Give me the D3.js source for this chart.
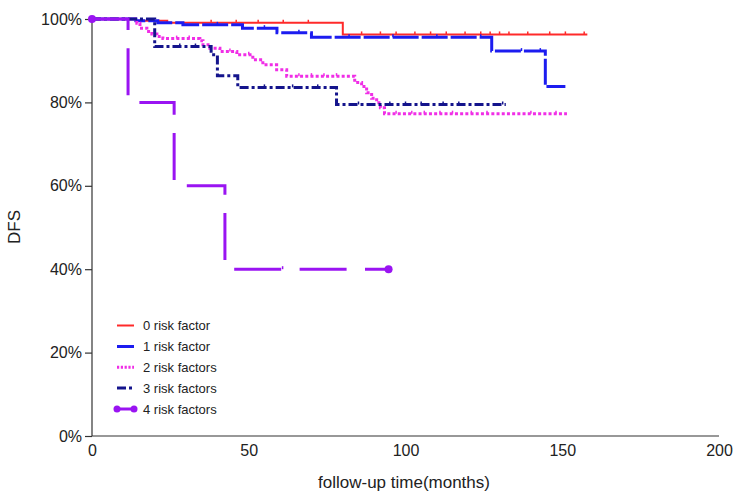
<!DOCTYPE html>
<html><head><meta charset="utf-8">
<script src="https://cdn.jsdelivr.net/npm/d3@7"></script>
<style>body{margin:0;background:#fff}svg{display:block}text{font-family:"Liberation Sans",Arial,sans-serif;fill:#222}</style>
</head><body>
<svg id="c" width="736" height="496"></svg>
<script>
// ---- data ----
const seriesNames = ["0 risk factor","1 risk factor","2 risk factors","3 risk factors","4 risk factors"];
const times0 = [0, 14, 24, 80];
const surv0  = [100, 99.6, 99.1, 96.3];
const end0 = 158;
const cens0 = [38, 46, 53, 61, 69, 86, 92, 97, 103, 108, 113, 119, 124, 127, 130, 133, 139, 146, 151, 157];
const times1 = [0, 14, 21, 29, 48, 59, 70, 127.5, 144.6];
const surv1  = [100, 99.6, 99.1, 98.6, 97.8, 96.7, 95.6, 92.3, 83.8];
const end1 = 151;
const cens1 = [40, 55, 66, 82, 96, 110, 124, 137, 143];
const times2 = [0, 14.3, 15.3, 17.5, 19.1, 20.7, 22.6, 34.4, 35.4, 37.6, 40.8, 46.2, 51.3, 54.5, 58.9, 62.1, 83.8, 86, 87.6, 89.2, 90.8, 92, 93.3];
const surv2  = [100, 99, 97.8, 97, 96.4, 95.8, 95.3, 94.8, 93.8, 93, 92.2, 91.4, 90.2, 89, 87.8, 86.3, 84.8, 83.8, 82.3, 81, 79.9, 78.7, 77.3];
const end2 = 151.5;
const cens2 = [27, 31, 44, 50, 66, 70, 74, 78, 97, 102, 106, 111, 115, 121, 126, 140, 148];
const times3 = [0, 20, 38, 40, 46.5, 78];
const surv3  = [100, 93.4, 91.4, 86.4, 83.6, 79.5];
const end3 = 132;
const cens3 = [28, 33, 55, 64, 72, 85, 95, 100, 105, 112, 117, 131];
const times4 = [0, 11.5, 26.2, 42.4];
const surv4  = [100, 80, 60, 40];
const end4 = 94.6;
const cens4 = [60.8];
const xTicks = [0, 50, 100, 150, 200];
const yTicks = [0, 20, 40, 60, 80, 100];

const colors = ["#ff2a2a", "#1c1cf0", "#f02ee6", "#14148c", "#9a14f2"];
const dashes = [null, "26,3", "3,2.2", "9,3,3,3", "47,18.4"];
const widths = [2, 3, 3, 3, 3];

const svg = d3.select("#c");
const x = d3.scaleLinear().domain([0, 200]).range([92, 719]);
const y = d3.scaleLinear().domain([0, 100]).range([436, 19]);

// axes
const gx = svg.append("g").attr("transform", "translate(0,436)")
  .call(d3.axisBottom(x).tickValues(xTicks).tickSize(0).tickPadding(6));
gx.selectAll("text").style("font-size", "16px").attr("dy", "0.9em");
const gy = svg.append("g").attr("transform", "translate(92,0)")
  .call(d3.axisLeft(y).tickValues(yTicks).tickSize(7).tickPadding(3).tickFormat(d => d + "%"));
gy.selectAll("text").style("font-size", "16px");
svg.selectAll(".domain, .tick line").attr("stroke", "#333").attr("stroke-width", 1.2);
svg.selectAll(".domain").attr("d", function(){ return d3.select(this).attr("d"); });
gy.select(".domain").attr("d", "M0,436V19");
gx.select(".domain").attr("d", "M92,0H719");

svg.append("text").attr("x", 404).attr("y", 488).attr("text-anchor", "middle")
  .style("font-size", "17px").text("follow-up time(months)");
svg.append("text").attr("transform", "translate(20,227) rotate(-90)").attr("text-anchor", "middle")
  .style("font-size", "17px").text("DFS");

const all = [
  [times0, surv0, end0, cens0],
  [times1, surv1, end1, cens1],
  [times2, surv2, end2, cens2],
  [times3, surv3, end3, cens3],
  [times4, surv4, end4, cens4]
];

function stepPts(t, s, e) {
  const pts = t.map((d, i) => [d, s[i]]);
  pts.push([e, s[s.length - 1]]);
  return pts;
}
function survAt(t, s, tt) {
  let v = s[0];
  for (let i = 0; i < t.length; i++) if (t[i] <= tt) v = s[i];
  return v;
}
const line = d3.line().x(d => x(d[0])).y(d => y(d[1])).curve(d3.curveStepAfter);

all.forEach((d, i) => {
  const g = svg.append("g");
  const p = g.append("path").datum(stepPts(d[0], d[1], d[2]))
    .attr("d", line).attr("fill", "none")
    .attr("stroke", colors[i]).attr("stroke-width", widths[i]);
  if (dashes[i]) p.attr("stroke-dasharray", dashes[i]);
  g.selectAll("line.c").data(d[3]).enter().append("line")
    .attr("x1", t => x(t)).attr("x2", t => x(t))
    .attr("y1", t => y(survAt(d[0], d[1], t))).attr("y2", t => y(survAt(d[0], d[1], t)) - 3)
    .attr("stroke", colors[i]).attr("stroke-width", 1.5);
  if (i === 4) {
    g.selectAll("circle").data([[d[0][0], d[1][0]], [d[2], d[1][d[1].length - 1]]]).enter()
      .append("circle").attr("cx", q => x(q[0])).attr("cy", q => y(q[1])).attr("r", 4)
      .attr("fill", colors[i]);
  }
});

// legend
const lg = svg.append("g");
const ly = [325.5, 346.5, 367.3, 388, 409];
seriesNames.forEach((n, i) => {
  const l = lg.append("line").attr("x1", 117).attr("x2", 134).attr("y1", ly[i]).attr("y2", ly[i])
    .attr("stroke", colors[i]).attr("stroke-width", i === 0 ? 2 : 3);
  if (i === 2) l.attr("stroke-dasharray", "2.2,1.6");
  if (i === 3) l.attr("stroke-dasharray", "9,3,3,3");
  if (i === 4) {
    lg.append("circle").attr("cx", 117).attr("cy", ly[i]).attr("r", 3.5).attr("fill", colors[i]);
    lg.append("circle").attr("cx", 134).attr("cy", ly[i]).attr("r", 3.5).attr("fill", colors[i]);
  }
  lg.append("text").attr("x", 143).attr("y", ly[i]).attr("dy", "0.35em")
    .style("font-size", "13px").text(n);
});
</script>
</body></html>
